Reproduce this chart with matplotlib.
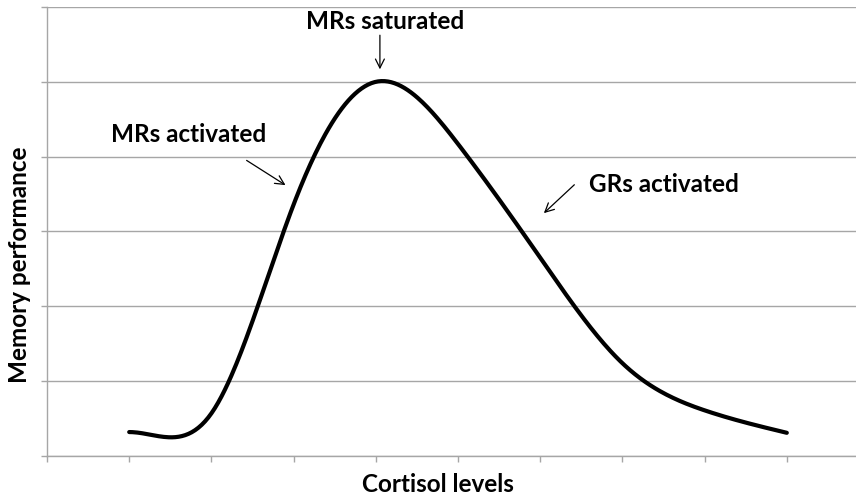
import numpy as np
import matplotlib
matplotlib.use("Agg")
import matplotlib.pyplot as plt

# values (category position -> memory performance)
categories = [1, 2, 3, 4, 5, 6, 7, 8, 9]
performance = [0.32, 0.57, 3.36, 5.0, 4.17, 2.65, 1.24, 0.61, 0.31]

x_label = "Cortisol levels"
y_label = "Memory performance"
labels = ["MRs saturated", "MRs activated", "GRs activated"]

plt.rcParams['font.family'] = ['Lato', 'DejaVu Sans']


def spline(xs, ys, start_slope=0.0, n=400):
	# cubic spline through the points, clamped at the start, natural at the end
	x = np.asarray(xs, float)
	y = np.asarray(ys, float)
	m = len(x)
	h = np.diff(x)
	A = np.zeros((m, m))
	r = np.zeros(m)
	A[0, 0] = 2 * h[0]
	A[0, 1] = h[0]
	r[0] = 6 * ((y[1] - y[0]) / h[0] - start_slope)
	A[-1, -1] = 1
	for i in range(1, m-1):
		A[i, i-1] = h[i-1]
		A[i, i] = 2 * (h[i-1] + h[i])
		A[i, i+1] = h[i]
		r[i] = 6 * ((y[i+1] - y[i]) / h[i] - (y[i] - y[i-1]) / h[i-1])
	M = np.linalg.solve(A, r)
	xx = np.linspace(x[0], x[-1], n)
	k = np.clip(np.searchsorted(x, xx) - 1, 0, m-2)
	a = x[k+1] - xx
	b = xx - x[k]
	hk = h[k]
	yy = (M[k] * a**3 + M[k+1] * b**3) / (6 * hk) + (y[k] / hk - M[k] * hk / 6) * a + (y[k+1] / hk - M[k+1] * hk / 6) * b
	return xx, yy


fig = plt.figure(figsize=(8.56, 4.98), dpi=100)
ax = fig.add_axes([47/856, 42/498, 822/856, 449/498])

sx, sy = spline(categories, performance)
ax.plot(sx, sy, color="black", lw=3, solid_capstyle="round", zorder=3)

ax.set_xlim(0, 10)
ax.set_ylim(0, 6)
ax.set_xticks(range(0, 11))
ax.set_yticks(range(0, 7))
ax.set_xticklabels([])
ax.set_yticklabels([])
ax.tick_params(length=4, width=1, color="#a6a6a6", direction="out")
ax.grid(axis="y", color="#a6a6a6", lw=1)
ax.set_axisbelow(True)
for s in ["top", "right"]:
	ax.spines[s].set_visible(False)
for s in ["left", "bottom"]:
	ax.spines[s].set_color("#a6a6a6")
	ax.spines[s].set_linewidth(1)

fs = 17.5
fig.text(438/856, 1 - 484/498, x_label, ha="center", va="center", fontsize=fs, fontweight="bold")
fig.text(20/856, 1 - 265/498, y_label, ha="center", va="center", rotation=90, fontsize=fs, fontweight="bold")

arrow = dict(arrowstyle="->", lw=0.9, color="black", mutation_scale=16)
ax.text(4.11, 5.81, labels[0], ha="center", va="center", fontsize=fs, fontweight="bold")
ax.annotate("", xy=(4.05, 5.13), xytext=(4.05, 5.66), arrowprops=arrow)
ax.text(1.72, 4.30, labels[1], ha="center", va="center", fontsize=fs, fontweight="bold")
ax.annotate("", xy=(2.93, 3.60), xytext=(2.40, 3.97), arrowprops=arrow)
ax.text(7.51, 3.63, labels[2], ha="center", va="center", fontsize=fs, fontweight="bold")
ax.annotate("", xy=(6.02, 3.22), xytext=(6.44, 3.65), arrowprops=arrow)

fig.savefig("out.png", dpi=100)
